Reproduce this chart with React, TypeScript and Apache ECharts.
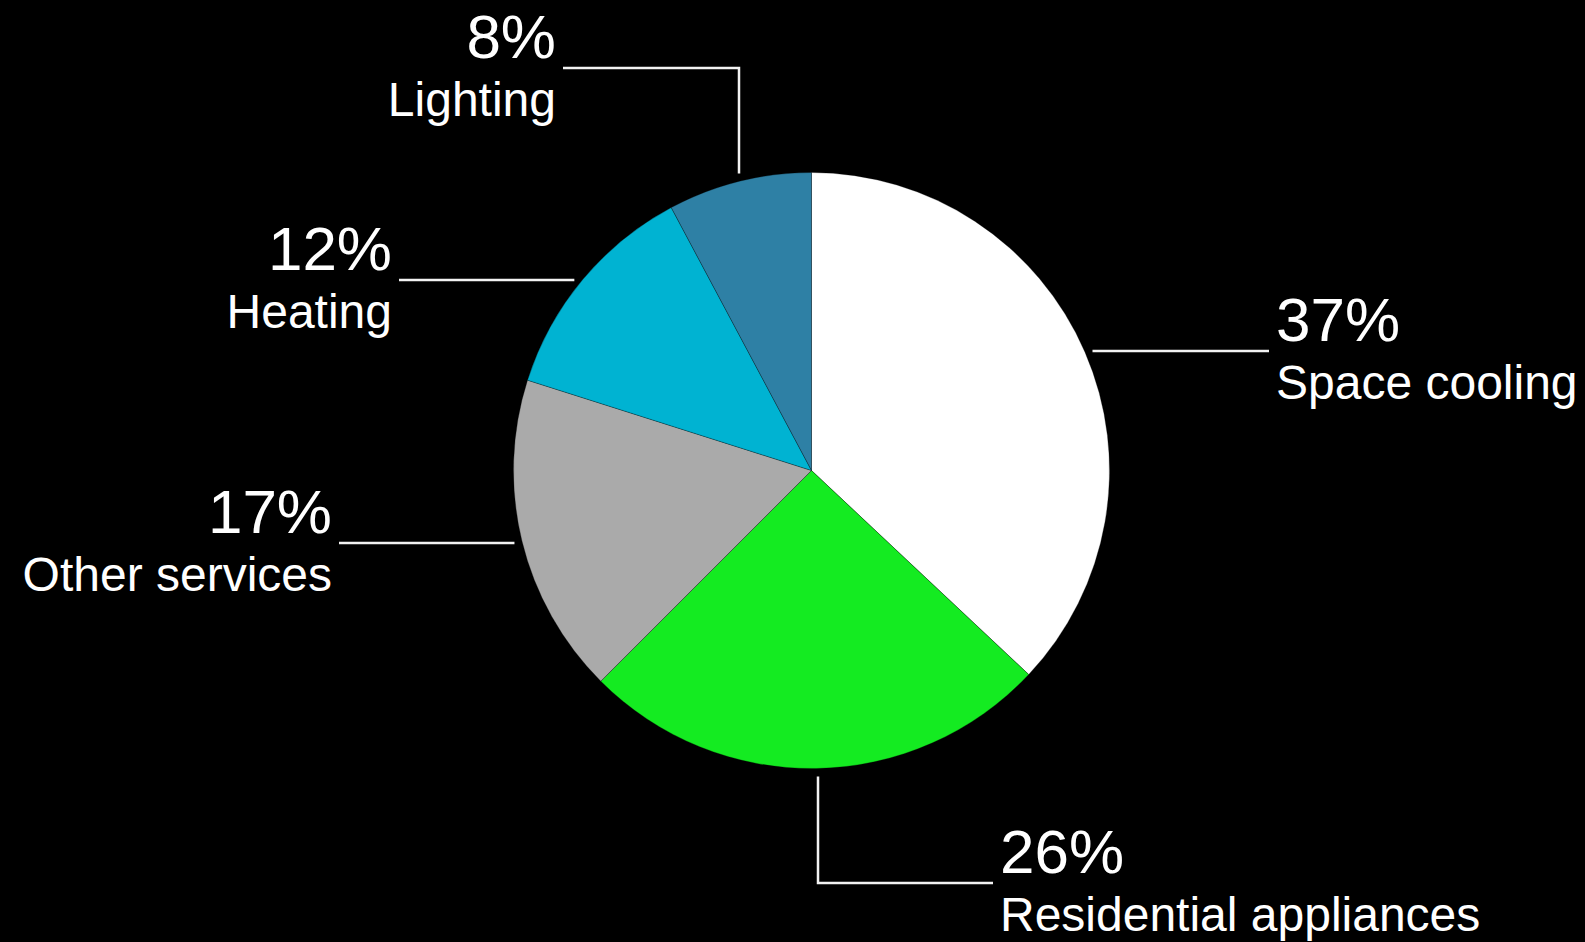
import React, { useEffect, useRef } from 'react';
import * as echarts from 'echarts';

// ---- data ----
const categories = ['Space cooling', 'Residential appliances', 'Other services', 'Heating', 'Lighting'];
// slice sizes
const shares = [37.0, 25.5, 17.4, 12.3, 7.8];
// rounded percentages printed on the labels
const labelPercents = ['37%', '26%', '17%', '12%', '8%'];
const colors = ['#FFFFFF', '#14EB21', '#AAAAAA', '#00B3D2', '#2E80A5'];

// ---- layout ----
const CX = 811.5;
const CY = 470.5;
const R = 298;
const GAP = 8;

type Guide = { dir: 'h' | 'v'; at: number; elbow?: number; end: number; side: 'left' | 'right' };
const guides: Guide[] = [
  { dir: 'h', at: 351, end: 1269, side: 'right' },
  { dir: 'v', at: 818, elbow: 883, end: 993, side: 'right' },
  { dir: 'h', at: 543, end: 339, side: 'left' },
  { dir: 'h', at: 280, end: 399, side: 'left' },
  { dir: 'v', at: 739, elbow: 68, end: 563, side: 'left' },
];

const FONT = '"Liberation Sans", Helvetica, Arial, sans-serif';

export default function App() {
  const ref = useRef<HTMLDivElement>(null);

  useEffect(() => {
    if (!ref.current) return;
    const chart = echarts.init(ref.current, undefined, { renderer: 'svg' });

    const labelLayout = (params: any) => {
      const g = guides[params.dataIndex];
      if (!g) return {};
      let pts: number[][];
      let ly: number;
      if (g.dir === 'h') {
        const dy = g.at - CY;
        const dx = Math.sqrt(Math.max(0, R * R - dy * dy));
        const sx = g.side === 'right' ? CX + dx + GAP : CX - dx - GAP;
        pts = [[sx, g.at], [(sx + g.end) / 2, g.at], [g.end, g.at]];
        ly = g.at;
      } else {
        const dx = g.at - CX;
        const dy = Math.sqrt(Math.max(0, R * R - dx * dx));
        const elbow = g.elbow as number;
        const sy = elbow < CY ? CY - dy - GAP : CY + dy + GAP;
        pts = [[g.at, sy], [g.at, elbow], [g.end, elbow]];
        ly = elbow;
      }
      return {
        x: g.side === 'right' ? g.end + 7 : g.end - 7,
        y: ly,
        align: g.side === 'right' ? 'left' : 'right',
        verticalAlign: 'middle',
        labelLinePoints: pts,
      };
    };

    chart.setOption({
      animation: false,
      backgroundColor: '#000000',
      series: [
        {
          type: 'pie',
          center: [CX, CY],
          radius: R,
          startAngle: 90,
          clockwise: true,
          avoidLabelOverlap: false,
          itemStyle: { borderWidth: 0.6, borderColor: 'rgba(0,0,0,0.45)' },
          label: {
            show: true,
            position: 'outside',
            color: '#FFFFFF',
            fontFamily: FONT,
            formatter: (p: any) => `{p|${labelPercents[p.dataIndex]}}\n{n|${p.name}}`,
            rich: {
              p: { fontSize: 62, lineHeight: 63, color: '#FFFFFF', fontFamily: FONT },
              n: { fontSize: 48, lineHeight: 63, color: '#FFFFFF', fontFamily: FONT },
            },
          },
          labelLine: {
            show: true,
            smooth: false,
            lineStyle: { color: '#F2F2F2', width: 2.5 },
          },
          labelLayout,
          emphasis: { disabled: true },
          data: categories.map((name, i) => ({
            name,
            value: shares[i],
            itemStyle: { color: colors[i] },
          })),
        },
      ],
    });

    return () => chart.dispose();
  }, []);

  return (
    <div
      ref={ref}
      style={{ position: 'fixed', left: 0, top: 0, width: 1585, height: 942, background: '#000' }}
    />
  );
}
